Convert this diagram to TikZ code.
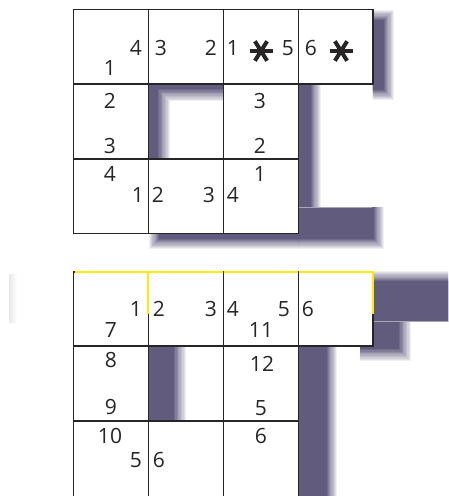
\documentclass[tikz,border=0pt]{standalone}
\usepackage{fontspec}
\setmainfont{Open Sans}
\definecolor{shadowc}{RGB}{97,92,126}
\definecolor{gridc}{RGB}{40,37,38}
\definecolor{yel}{RGB}{255,236,0}
\newcommand\sblur[6][shadowc]{%
  \foreach \k in {0,...,9}{%
    \pgfmathsetmacro\sbE{#6*(1-(2*\k+1)/10)}%
    \pgfmathsetmacro\sbA{1/(10-\k)}%
    \fill[#1, fill opacity=\sbA] ({#2-\sbE},{#3-\sbE}) rectangle ({#4+\sbE},{#5+\sbE});
  }}
\tikzset{
  cell/.style={fill=white, draw=gridc, line width=1.4pt},
  gridline/.style={draw=gridc, line width=1.4pt},
  yline/.style={draw=yel, line width=1.7pt},
  num/.style={inner sep=0pt, text=gridc, font=\fontsize{21}{21}\selectfont},
  ast/.style={draw=gridc, line width=4pt},
  seam/.style={draw=shadowc!55, line width=0.6pt}
}
\begin{document}
\begin{tikzpicture}[x=1pt,y=-1pt]
\useasboundingbox (0,0) rectangle (448,496);
\clip (0,0) rectangle (448,496);
% ---------- top grid shadows ----------
\begin{scope}
  \clip (372.8,0) rectangle (420,120);
  \sblur{350}{15}{389}{95}{6}
\end{scope}
\begin{scope}
  \clip (290,84) rectangle (330,207);
  \sblur{280}{70}{316}{260}{6}
\end{scope}
\begin{scope}
  \clip (298,207) rectangle (420,262);
  \sblur{280}{180}{379}{244}{6}
\end{scope}
\begin{scope}
  \clip (140,220) rectangle (298,262);
  \sblur{154}{200}{320}{244}{6}
\end{scope}
\draw[seam] (298.3,207) -- (372,207);
\begin{scope}
  \clip (148.3,84) rectangle (223.3,159);
  \fill[shadowc] (148.3,84) rectangle (223.3,159);
  \sblur[white]{164}{95}{260}{220}{7}
\end{scope}
% ---------- bottom grid shadows ----------
\begin{scope}
  \clip (360,255) rectangle (448,321);
  \sblur{360}{276}{480}{350}{6}
\end{scope}
\begin{scope}
  \clip (360,321) rectangle (448,380);
  \sblur{350}{300}{405}{355}{7}
\end{scope}
\draw[seam] (373,321) -- (448,321);
\sblur{280}{330}{332}{520}{6}
\begin{scope}
  \clip (148.3,346) rectangle (223.3,421);
  \sblur{130}{330}{180}{440}{7}
\end{scope}
\shade[left color=black!9, right color=white] (9,274) rectangle (17,322);
% ---------- top grid cells ----------
\path[cell] (73.5,9.5) rectangle (148.3,84);
\path[cell] (148.3,9.5) rectangle (223.3,84);
\path[cell] (223.3,9.5) rectangle (298.3,84);
\path[cell] (298.3,9.5) rectangle (372.8,84);
\path[cell] (73.5,84) rectangle (148.3,159);
\path[cell] (223.3,84) rectangle (298.3,159);
\path[cell] (73.5,159) rectangle (148.3,233.5);
\path[cell] (148.3,159) rectangle (223.3,233.5);
\path[cell] (223.3,159) rectangle (298.3,233.5);
% ---------- bottom grid cells ----------
\path[cell] (73.5,272) rectangle (148.3,346);
\path[cell] (148.3,272) rectangle (223.3,346);
\path[cell] (223.3,272) rectangle (298.3,346);
\path[cell] (298.3,272) rectangle (372.8,346);
\path[cell] (73.5,346) rectangle (148.3,421);
\path[cell] (223.3,346) rectangle (298.3,421);
\path[cell] (73.5,421) rectangle (148.3,499);
\path[cell] (148.3,421) rectangle (223.3,499);
\path[cell] (223.3,421) rectangle (298.3,499);
% yellow edges
\draw[yline] (74.5,272) -- (372.8,272);
\draw[yline] (148.3,272) -- (148.3,314);
\draw[yline] (372.8,271.2) -- (372.8,314);
\draw[gridline] (73.5,271) -- (73.5,300);
\draw[gridline] (223.3,271) -- (223.3,300);
\draw[gridline] (298.3,271) -- (298.3,300);
% ---------- top grid numbers ----------
\node[num] (t1) at (136,48) {4};
\node[num] (t2) at (110,68) {1};
\node[num] (t3) at (161,48) {3};
\node[num] (t4) at (211,48) {2};
\node[num] (t5) at (233,48) {1};
\node[num] (t6) at (288,48) {5};
\node[num] (t7) at (311,48) {6};
\node[num] (t8) at (110,101) {2};
\node[num] (t9) at (110,146) {3};
\node[num] (t10) at (260,101) {3};
\node[num] (t11) at (260,146) {2};
\node[num] (t12) at (110,174) {4};
\node[num] (t13) at (138,195) {1};
\node[num] (t14) at (158,195) {2};
\node[num] (t15) at (209,195) {3};
\node[num] (t16) at (260,174) {1};
\node[num] (t17) at (233,195) {4};
% asterisks
\coordinate (s1) at (261,51);
\coordinate (s2) at (341,51);
\foreach \s in {s1,s2}{
  \draw[ast] (\s) ++(-11.5,0) -- ++(23,0);
  \draw[ast] (\s) ++(58:11.5) -- ++(238:23);
  \draw[ast] (\s) ++(122:11.5) -- ++(302:23);
}
% ---------- bottom grid numbers ----------
\node[num] (b1) at (136,309) {1};
\node[num] (b2) at (111,330) {7};
\node[num] (b3) at (159,309) {2};
\node[num] (b4) at (211,309) {3};
\node[num] (b5) at (233,309) {4};
\node[num] (b6) at (284,309) {5};
\node[num] (b7) at (261,330) {11};
\node[num] (b8) at (308,309) {6};
\node[num] (b9) at (111,360) {8};
\node[num] (b10) at (111,407) {9};
\node[num] (b11) at (262,364) {12};
\node[num] (b12) at (261,408) {5};
\node[num] (b13) at (110,436) {10};
\node[num] (b14) at (136,460) {5};
\node[num] (b15) at (159,460) {6};
\node[num] (b16) at (261,436) {6};
\end{tikzpicture}
\end{document}
